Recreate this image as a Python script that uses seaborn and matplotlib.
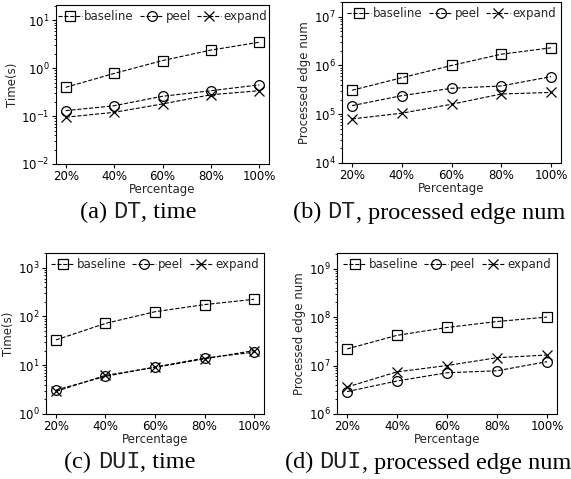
import numpy as np
import pandas as pd
import matplotlib
matplotlib.use("Agg")
import matplotlib.pyplot as plt
import seaborn as sns
from matplotlib.ticker import FixedLocator, LogLocator, NullFormatter
from matplotlib.offsetbox import TextArea, HPacker, AnchoredOffsetbox

# data
pct = [20, 40, 60, 80, 100]
pct_labels = ['20%', '40%', '60%', '80%', '100%']
methods = ['baseline', 'peel', 'expand']

dt_time_baseline = [0.40, 0.78, 1.45, 2.4, 3.5]
dt_time_peel = [0.13, 0.165, 0.26, 0.34, 0.45]
dt_time_expand = [0.095, 0.12, 0.18, 0.28, 0.34]

dt_edge_baseline = [3.1e5, 5.6e5, 1.0e6, 1.7e6, 2.3e6]
dt_edge_peel = [1.5e5, 2.4e5, 3.4e5, 3.8e5, 5.9e5]
dt_edge_expand = [8.0e4, 1.05e5, 1.6e5, 2.6e5, 2.8e5]

dui_time_baseline = [33, 72, 125, 175, 225]
dui_time_peel = [3.1, 5.9, 9.2, 14, 18.5]
dui_time_expand = [2.9, 6.2, 9.0, 13.5, 20]

dui_edge_baseline = [2.2e7, 4.2e7, 6.1e7, 8.1e7, 1.0e8]
dui_edge_peel = [2.9e6, 4.8e6, 7.1e6, 7.8e6, 1.2e7]
dui_edge_expand = [3.6e6, 7.4e6, 1.0e7, 1.45e7, 1.65e7]

sns.set_style("ticks")
plt.rcParams['font.family'] = ['DejaVu Sans']
plt.rcParams['axes.edgecolor'] = 'black'
plt.rcParams['xtick.color'] = 'black'
plt.rcParams['ytick.color'] = 'black'

fig = plt.figure(figsize=(5.71, 4.79), dpi=100)
W, H = 571, 479


def add_ax(left, right, top, bottom):
    return fig.add_axes([left / W, 1 - bottom / H, (right - left) / W, (bottom - top) / H])


markers = {'baseline': 's', 'peel': 'o', 'expand': 'x'}


def panel(ax, series, ylim, ylabel, yticks):
    for name, vals in zip(methods, series):
        sns.lineplot(x=pct, y=vals, ax=ax, label=name, color='black',
                     linestyle='--', linewidth=0.8, marker=markers[name],
                     markersize=7, markerfacecolor='none', markeredgecolor='black',
                     markeredgewidth=0.9)
    ax.set_yscale('log')
    ax.set_ylim(*ylim)
    ax.yaxis.set_major_locator(FixedLocator(yticks))
    ax.yaxis.set_minor_locator(LogLocator(base=10, subs=np.arange(2, 10), numticks=20))
    ax.yaxis.set_minor_formatter(NullFormatter())
    ax.set_xlim(16, 104)
    ax.set_xticks(pct)
    ax.set_xticklabels(pct_labels)
    ax.set_xlabel('Percentage', fontsize=8.5, labelpad=0)
    ax.set_ylabel(ylabel, fontsize=8.5, labelpad=2)
    ax.tick_params(labelsize=8.5, length=3, width=0.8, pad=1.5)
    ax.tick_params(which='minor', length=1.8, width=0.6)
    for s in ax.spines.values():
        s.set_linewidth(0.8)
    ax.legend(loc='upper center', ncol=3, frameon=False, fontsize=8.5,
              handlelength=2.0, handletextpad=0.2, columnspacing=0.5,
              borderaxespad=0.2, borderpad=0.2)


ax_a = add_ax(56, 269, 5, 164)
panel(ax_a, [dt_time_baseline, dt_time_peel, dt_time_expand], (1e-2, 21), 'Time(s)',
      [1e-2, 1e-1, 1e0, 1e1])
ax_b = add_ax(342, 561, 2, 163)
panel(ax_b, [dt_edge_baseline, dt_edge_peel, dt_edge_expand], (1e4, 2e7), 'Processed edge num',
      [1e4, 1e5, 1e6, 1e7])
ax_c = add_ax(46, 264, 253, 414)
panel(ax_c, [dui_time_baseline, dui_time_peel, dui_time_expand], (1e0, 2e3), 'Time(s)',
      [1e0, 1e1, 1e2, 1e3])
ax_d = add_ax(337, 557, 253, 414)
panel(ax_d, [dui_edge_baseline, dui_edge_peel, dui_edge_expand], (1e6, 2.1e9), 'Processed edge num',
      [1e6, 1e7, 1e8, 1e9])


def caption(label, mono, rest, cx, cy):
    serif = dict(family='Liberation Serif', size=17.5, color='black')
    monof = dict(family='Liberation Mono', size=17, color='#222222')
    parts = [TextArea(label + '\u00a0', textprops=serif),
             TextArea(mono, textprops=monof),
             TextArea(rest, textprops=serif)]
    box = HPacker(children=parts, align='baseline', pad=0, sep=0)
    anch = AnchoredOffsetbox(loc='center', child=box, pad=0, borderpad=0, frameon=False,
                             bbox_to_anchor=(cx / W, 1 - cy / H),
                             bbox_transform=fig.transFigure)
    fig.add_artist(anch)


caption('(a)', 'DT', ', time', 138, 212)
caption('(b)', 'DT', ', processed edge num', 429, 212)
caption('(c)', 'DUI', ', time', 130, 462)
caption('(d)', 'DUI', ', processed edge num', 428, 462)

fig.savefig('out.png', dpi=100)
